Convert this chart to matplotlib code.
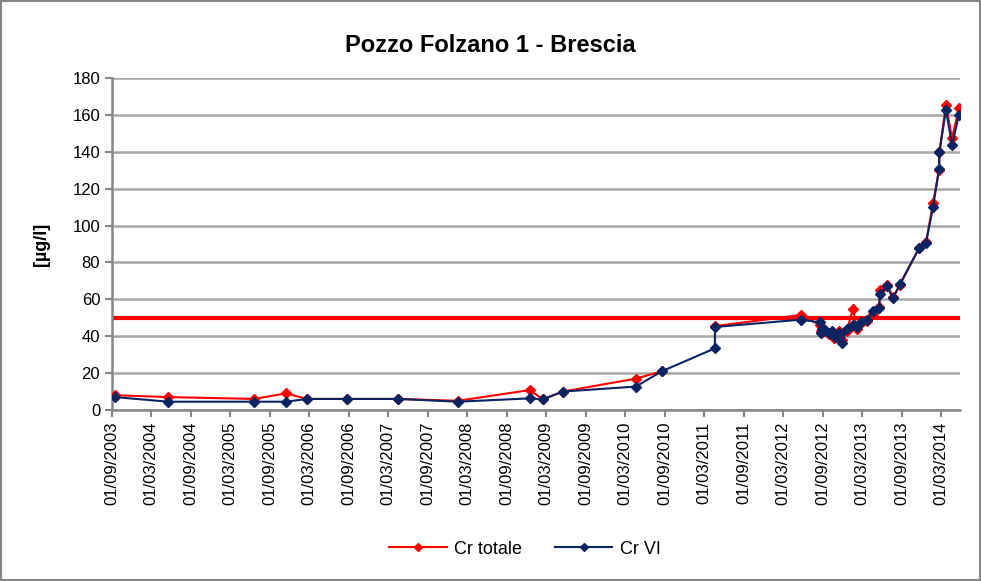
import numpy as np
import pandas as pd
import matplotlib
matplotlib.use("Agg")
import matplotlib.pyplot as plt
import matplotlib.dates as mdates
from matplotlib.patches import Rectangle

plt.rcParams['font.family'] = ['Liberation Sans', 'DejaVu Sans']

# sampling dates
dates = ["2003-09-15", "2004-05-17", "2005-06-19", "2005-11-14", "2006-02-19",
         "2006-08-24", "2007-04-17", "2008-01-17", "2008-12-15", "2009-02-14",
         "2009-05-17", "2010-04-20", "2010-08-18", "2011-04-20", "2011-04-21",
         "2012-05-23", "2012-08-19", "2012-08-21", "2012-08-28", "2012-09-11",
         "2012-09-29", "2012-10-13", "2012-10-22", "2012-10-31", "2012-11-14",
         "2012-11-28", "2012-12-21", "2013-01-18", "2013-02-06", "2013-02-24",
         "2013-03-24", "2013-04-21", "2013-05-19", "2013-05-23", "2013-06-25",
         "2013-07-22", "2013-08-24", "2013-11-20", "2013-12-22", "2014-01-23",
         "2014-02-20", "2014-02-22", "2014-03-24", "2014-04-21", "2014-05-23"]

cr_totale = [8, 7, 6, 9, 6,
             6, 6, 5, 10.8, 5.8,
             10, 17, 21, np.nan, 45.5,
             51.5, 46, 43, 44, 43,
             41, 42, 39, 41, 43,
             38, 43, 55, 44, 47,
             48, 52, 56, 65, 68,
             61, 68, 88, 91, 112,
             130, 140, 165.5, 147.3, 163.8]

cr_vi = [7, 4.5, 4.5, 4.5, 6,
         6, 6, 4.5, 6.3, 5.8,
         10, 12.7, 21, 33.4, 45,
         49, 47.5, 42, 44, 43.4,
         42, 43, 40, 39.8, 42,
         36.3, 44, 46, 45, 47.9,
         48.8, 53.5, 55.5, 63, 67,
         60.5, 68.5, 87.7, 90.7, 110,
         130.5, 140, 162.7, 143.7, 160]

limite = 50

x = pd.to_datetime(dates)

fig = plt.figure(figsize=(9.81, 5.81), dpi=100)
ax = fig.add_axes([112 / 981, 1 - 410 / 581, 848 / 981, 332 / 581])

ax.axhline(limite, color='#ff0000', lw=3, zorder=2)
ax.plot(x, cr_totale, color='#ff0000', lw=1.5, marker='D', ms=5.5,
        label='Cr totale', zorder=3)
ax.plot(x, cr_vi, color='#0a2463', lw=1.5, marker='D', ms=5.5,
        label='Cr VI', zorder=4)

ax.set_ylim(0, 180)
ax.set_yticks(np.arange(0, 181, 20))
ax.set_xlim(pd.Timestamp("2003-09-01"), pd.Timestamp("2014-05-28"))
ax.xaxis.set_major_locator(mdates.MonthLocator(bymonth=[3, 9], bymonthday=1))
ax.xaxis.set_major_formatter(mdates.DateFormatter('%d/%m/%Y'))
plt.setp(ax.get_xticklabels(), rotation=90)

ax.grid(axis='y', color='#a6a6a6', lw=1.8)
ax.set_axisbelow(True)
for s in ['top', 'right']:
    ax.spines[s].set_visible(False)
for s in ['left', 'bottom']:
    ax.spines[s].set_color('#868686')
    ax.spines[s].set_linewidth(1.8)
ax.tick_params(colors='#868686', labelcolor='black', labelsize=12, width=1.5, length=5)

ax.set_ylabel('[µg/l]', fontsize=13, fontweight='bold', labelpad=16)
fig.text(0.5, 1 - 45 / 581, 'Pozzo Folzano 1 - Brescia', fontsize=17,
         fontweight='bold', ha='center', va='center')

fig.legend(loc='lower center', bbox_to_anchor=(0.535, 0.012), ncol=2, frameon=False,
           fontsize=13, handlelength=3.2, columnspacing=1.8, markerscale=0.7,
           handletextpad=0.4)

fig.patches.append(Rectangle((0.001, 0.001), 0.998, 0.998, transform=fig.transFigure,
                             fill=False, edgecolor='#868686', lw=1.5))

fig.savefig('out.png', dpi=100)
